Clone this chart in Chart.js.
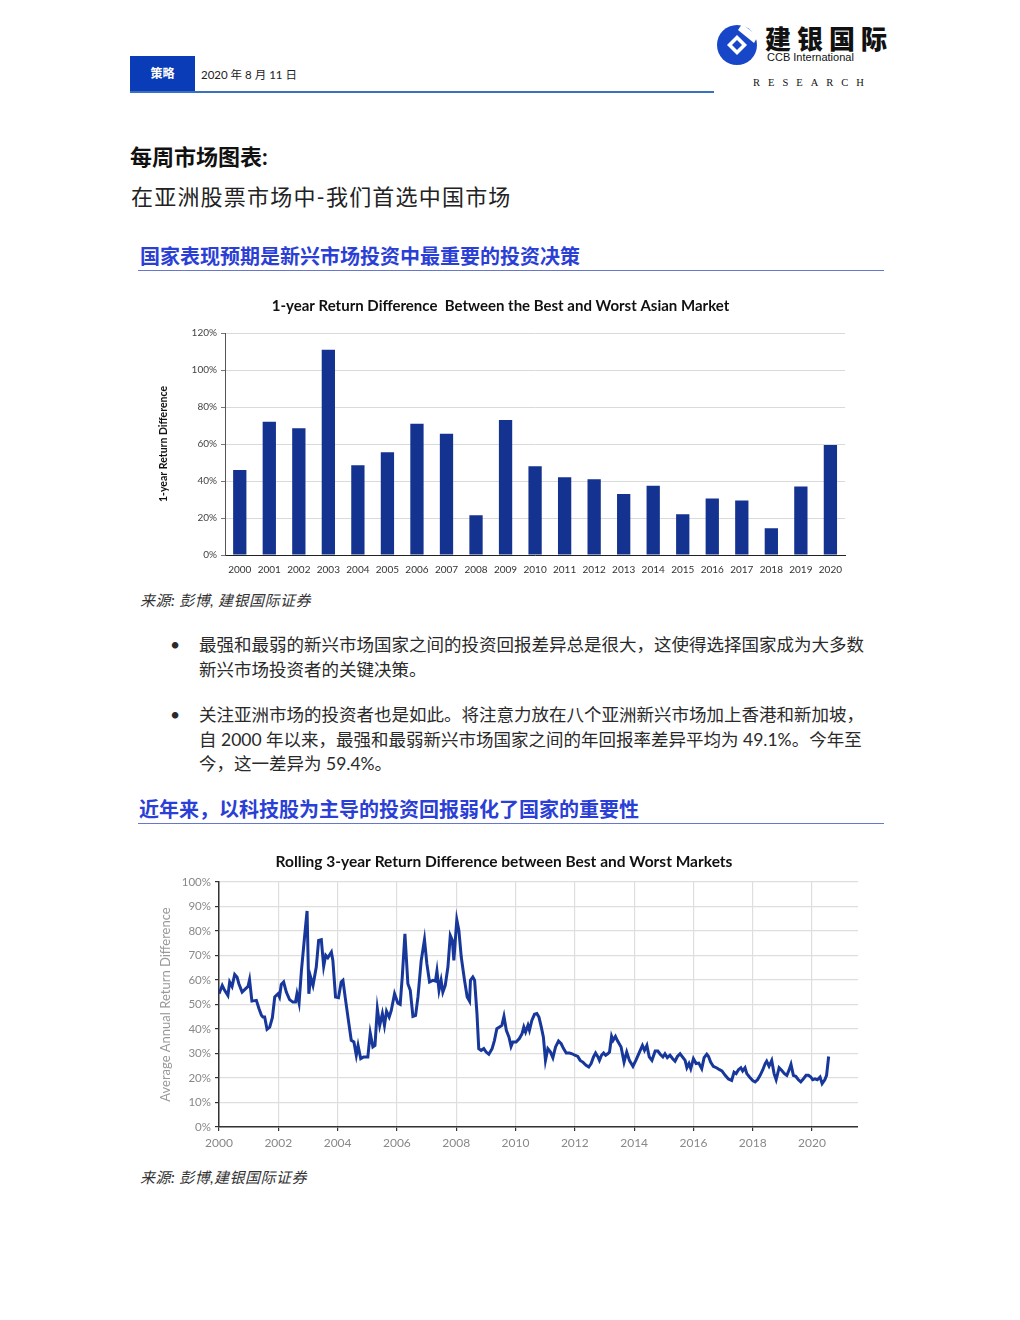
<!DOCTYPE html>
<html>
<head>
<meta charset="utf-8">
<script src="https://cdn.jsdelivr.net/npm/chart.js@4/dist/chart.umd.min.js"></script>
<style>
  html, body { margin:0; padding:0; background:#fff; }
  body { width:1020px; height:1320px; position:relative; overflow:hidden;
         font-family: "Lato", "Noto Sans CJK SC", sans-serif; color:#222; }
  .abs { position:absolute; white-space:nowrap; }
  .h2 { font-size:20px; font-weight:bold; color:#2b3fd6; line-height:24px; letter-spacing:0px; }
  .rule { position:absolute; height:1px; background:#6677cc; }
  .body { font-size:17.5px; line-height:24.5px; color:#2a2a2a; }
  .src { font-size:15px; font-style:italic; line-height:18px; color:#333; letter-spacing:0.5px; }
</style>
</head>
<body>
<!-- header -->
<div class="abs" style="left:130px;top:56px;width:65px;height:36px;background:#0b3cb8;"></div>
<div class="abs" style="left:130px;top:56px;width:65px;height:36px;line-height:36px;text-align:center;color:#fff;font-size:12px;font-weight:bold;">策略</div>
<div class="abs" style="left:201px;top:67px;font-size:11.5px;line-height:16px;color:#222;">2020 年 8 月 11 日</div>
<div class="abs" style="left:130px;top:91px;width:584px;height:2px;background:#3a70c0;"></div>

<svg class="abs" width="42" height="42" viewBox="0 0 42 42" style="left:716px;top:24px;">
  <circle cx="21" cy="21" r="20" fill="#1846c8"/>
  <path d="M26 0 L42 12 L38 19 L22 6 Z" fill="#fff"/>
  <polygon points="21,11 31,21 21,31 11,21" fill="#fff"/>
  <polygon points="21,16 26,21 21,26 16,21" fill="#1846c8"/>
</svg>
<div class="abs" style="left:765px;top:23px;font-size:26px;font-weight:900;letter-spacing:6px;line-height:32px;color:#111;">建银国际</div>
<div class="abs" style="left:767px;top:50px;font-family:'Liberation Sans',Arial,sans-serif;font-size:11px;line-height:14px;color:#111;">CCB International</div>
<div class="abs" style="left:753px;top:76px;font-family:'Liberation Serif',serif;font-size:10.5px;letter-spacing:8px;line-height:14px;color:#111;">RESEARCH</div>

<!-- titles -->
<div class="abs" style="left:130px;top:144px;font-size:22px;font-weight:bold;line-height:26px;color:#111;">每周市场图表:</div>
<div class="abs" style="left:131px;top:184px;font-size:22px;line-height:26px;letter-spacing:1.2px;color:#222;">在亚洲股票市场中-我们首选中国市场</div>

<div class="abs h2" style="left:140px;top:244px;">国家表现预期是新兴市场投资中最重要的投资决策</div>
<div class="rule" style="left:138px;top:270px;width:746px;"></div>

<!-- chart 1 -->
<canvas id="c1" class="abs" width="701" height="291" style="left:150px;top:294px;"></canvas>
<div class="abs src" style="left:140px;top:591px;">来源: 彭博, 建银国际证券</div>

<!-- bullets -->
<div class="abs body" style="left:170px;top:633px;">•</div>
<div class="abs body" style="left:199px;top:633px;">最强和最弱的新兴市场国家之间的投资回报差异总是很大，这使得选择国家成为大多数<br>新兴市场投资者的关键决策。</div>
<div class="abs body" style="left:170px;top:703px;">•</div>
<div class="abs body" style="left:199px;top:703px;">关注亚洲市场的投资者也是如此。将注意力放在八个亚洲新兴市场加上香港和新加坡，<br>自 2000 年以来，最强和最弱新兴市场国家之间的年回报率差异平均为 49.1%。今年至<br>今，这一差异为 59.4%。</div>

<div class="abs h2" style="left:139px;top:797px;">近年来，以科技股为主导的投资回报弱化了国家的重要性</div>
<div class="rule" style="left:138px;top:823px;width:746px;"></div>

<!-- chart 2 -->
<canvas id="c2" class="abs" width="708" height="305" style="left:150px;top:850px;"></canvas>
<div class="abs src" style="left:140px;top:1168px;">来源: 彭博,建银国际证券</div>

<script>
// ---------- data: chart 1 ----------
const barYears = ['2000','2001','2002','2003','2004','2005','2006','2007','2008','2009','2010',
                  '2011','2012','2013','2014','2015','2016','2017','2018','2019','2020'];
const barValues = [46, 72, 68.5, 111, 48.5, 55.5, 71, 65.5, 21.5, 73, 48,
                   42, 41, 33, 37.5, 22, 30.5, 29.5, 14.5, 37, 59.4];
const barTitle = '1-year Return Difference  Between the Best and Worst Asian Market';
const barAxisTitle = '1-year Return Difference';

// ---------- data: chart 2 ----------
const lineTitle = 'Rolling 3-year Return Difference between Best and Worst Markets';
const lineAxisTitle = 'Average Annual Return Difference';
const lineTickYears = [2000, 2002, 2004, 2006, 2008, 2010, 2012, 2014, 2016, 2018, 2020];
const lineX = [
 2000.00,2000.11,2000.19,2000.30,2000.36,2000.44,2000.53,2000.61,2000.67,2000.78,2000.90,2000.98,
 2001.03,2001.11,2001.26,2001.35,2001.43,2001.48,2001.54,2001.62,2001.71,2001.80,2001.88,2001.99,
 2002.04,2002.10,2002.18,2002.27,2002.38,2002.49,2002.58,2002.63,2002.70,2002.78,2002.89,2002.97,
 2003.03,2003.09,2003.17,2003.22,2003.28,2003.36,2003.45,2003.53,2003.60,2003.67,2003.79,2003.84,2003.93,
 2004.03,2004.12,2004.18,2004.27,2004.38,2004.46,2004.55,2004.63,2004.69,2004.78,2004.88,
 2005.02,2005.10,2005.19,2005.26,2005.34,2005.42,2005.51,2005.58,2005.65,2005.74,2005.81,2005.92,
 2006.03,2006.11,2006.18,2006.27,2006.37,2006.45,2006.54,2006.63,2006.71,2006.82,2006.93,
 2007.01,2007.10,2007.21,2007.30,2007.35,2007.42,2007.49,2007.55,2007.63,2007.72,2007.80,2007.87,2007.92,
 2008.02,2008.09,2008.17,2008.28,2008.37,2008.45,2008.48,2008.56,2008.62,2008.70,2008.76,2008.84,2008.93,
 2009.01,2009.10,2009.21,2009.29,2009.37,2009.46,2009.54,2009.61,2009.69,2009.78,2009.85,2009.91,
 2010.02,2010.13,2010.22,2010.28,2010.34,2010.42,2010.47,2010.55,2010.64,2010.72,2010.79,2010.87,2010.94,
 2011.01,2011.09,2011.18,2011.26,2011.35,2011.45,2011.54,2011.62,2011.71,2011.82,2011.91,
 2012.00,2012.10,2012.18,2012.27,2012.38,2012.47,2012.55,2012.63,2012.70,2012.78,2012.83,2012.90,2012.97,
 2013.04,2013.11,2013.17,2013.24,2013.29,2013.37,2013.43,2013.56,2013.66,2013.75,2013.84,2013.96,
 2014.07,2014.18,2014.28,2014.35,2014.43,2014.51,2014.60,2014.71,2014.80,2014.88,2014.97,
 2015.04,2015.12,2015.21,2015.30,2015.38,2015.46,2015.55,2015.63,2015.72,2015.78,2015.85,2015.91,
 2016.00,2016.09,2016.18,2016.28,2016.36,2016.45,2016.51,2016.58,2016.67,2016.79,2016.88,2016.96,
 2017.07,2017.18,2017.29,2017.37,2017.44,2017.52,2017.60,2017.66,2017.74,2017.80,2017.89,
 2018.00,2018.08,2018.16,2018.25,2018.34,2018.42,2018.47,2018.55,2018.64,2018.72,2018.79,2018.89,2018.98,
 2019.07,2019.15,2019.22,2019.29,2019.37,2019.45,2019.54,2019.62,2019.71,2019.80,2019.88,2019.96,
 2020.02,2020.10,2020.18,2020.27,2020.34,2020.43,2020.49,2020.56
];
const lineY = [
 54.4,57.8,55.8,53.7,59.2,57.4,62.3,61.2,58.5,55.1,56.5,57.4,
 60.1,51.4,51.7,48.3,45.6,44.9,44.9,39.9,40.8,44.6,53.1,54.4,
 53.1,58.2,59.2,55.1,52.0,51.0,51.0,54.4,50.6,63.9,78.2,88.2,
 54.4,61.2,57.8,61.2,65.3,76.2,76.5,65.6,70.1,69.1,71.4,68.0,53.1,
 52.8,59.2,59.9,51.7,42.2,35.4,34.7,29.3,33.3,27.9,28.6,
 28.6,38.4,32.7,33.3,48.3,41.5,46.3,41.5,47.3,44.9,47.6,54.4,
 50.6,50.1,61.2,78.9,58.5,55.8,45.2,45.6,53.1,68.0,76.5,
 66.7,59.2,59.9,59.6,63.7,55.8,59.9,55.1,57.8,65.3,78.2,76.2,68.0,
 84.6,80.3,69.4,59.9,53.1,51.4,59.9,61.2,59.9,46.3,32.0,31.3,32.0,
 30.6,29.7,32.0,35.4,40.1,40.8,41.5,45.2,39.5,36.7,32.9,34.7,
 34.7,36.1,38.1,40.8,38.8,41.5,39.5,43.5,46.0,46.3,44.9,40.8,36.7,
 27.2,32.0,30.6,28.3,32.7,35.1,34.0,32.0,30.2,30.2,29.9,
 29.3,28.8,27.2,26.5,25.2,24.5,25.9,28.6,30.2,28.6,27.2,29.3,30.2,
 29.3,29.9,30.6,37.0,35.4,37.0,35.4,32.7,26.5,30.6,27.2,24.8,
 27.5,30.6,33.3,31.3,33.3,28.6,27.2,31.0,31.0,29.7,28.6,
 29.9,28.3,29.3,27.9,26.9,28.8,29.9,28.6,27.2,24.2,25.9,23.8,
 27.9,25.9,26.1,23.8,28.3,29.7,28.8,26.5,24.8,24.1,23.4,22.9,
 21.1,19.6,19.0,22.4,21.8,23.4,24.2,22.9,24.2,21.8,20.4,
 19.0,18.4,19.3,21.1,23.4,25.9,26.9,24.8,27.2,21.8,19.3,24.2,23.1,
 21.8,21.1,23.1,25.6,21.1,20.7,19.3,18.4,19.7,21.1,21.1,20.4,
 19.3,19.7,19.3,20.4,17.7,19.3,21.1,28.8
];

const chartFont = "'Lato', 'DejaVu Sans', sans-serif";

// ---------- chart 1 ----------
new Chart(document.getElementById('c1'), {
  type: 'bar',
  data: {
    labels: barYears,
    datasets: [{ data: barValues, backgroundColor: '#14328f', borderWidth: 0,
                 categoryPercentage: 1, barPercentage: 0.45 }]
  },
  options: {
    responsive: false, animation: false,
    layout: { padding: 0 },
    plugins: {
      legend: { display: false }, tooltip: { enabled: false },
      title: { display: true, text: barTitle, color: '#111',
               font: { family: chartFont, size: 15, weight: 'bold' },
               padding: { top: 3.5, bottom: 17.5 } }
    },
    scales: {
      x: {
        grid: { display: false, drawTicks: false },
        border: { color: '#222', width: 1 },
        ticks: { color: '#333', font: { family: chartFont, size: 10 }, padding: 9, maxRotation: 0, autoSkip: false },
        afterFit: (s) => { s.height = 30; }
      },
      y: {
        min: 0, max: 120,
        grid: { color: '#dadada', lineWidth: 1, tickLength: 4, tickColor: '#777' },
        border: { color: '#555', width: 1 },
        ticks: { stepSize: 20, color: '#444', padding: 4, font: { family: chartFont, size: 10 },
                 callback: (v) => v + '%' },
        title: { display: true, text: barAxisTitle, color: '#111',
                 font: { family: chartFont, size: 10.5, weight: 'bold' }, padding: { top: 7, bottom: 0 } },
        afterFit: (s) => { s.width = 75; }
      }
    }
  }
});

// ---------- chart 2 ----------
new Chart(document.getElementById('c2'), {
  type: 'line',
  data: {
    datasets: [{ data: lineX.map((x, i) => ({ x: x, y: lineY[i] })),
                 borderColor: '#17379a', borderWidth: 3, pointRadius: 0, tension: 0, fill: false }]
  },
  options: {
    responsive: false, animation: false,
    layout: { padding: 0 },
    plugins: {
      legend: { display: false }, tooltip: { enabled: false },
      title: { display: true, text: lineTitle, color: '#111',
               font: { family: chartFont, size: 15.5, weight: 'bold' },
               padding: { top: 3, bottom: 10.5 } }
    },
    scales: {
      x: {
        type: 'linear', min: 2000, max: 2021.55,
        afterBuildTicks: (s) => { s.ticks = lineTickYears.map(v => ({ value: v })); },
        grid: { color: '#dedede', lineWidth: 1.2, tickLength: 4, tickColor: '#333' },
        border: { color: '#333', width: 1.5 },
        ticks: { color: '#888', font: { family: chartFont, size: 12 }, padding: 5, maxRotation: 0,
                 callback: (v) => String(v) },
        afterFit: (s) => { s.height = 28; }
      },
      y: {
        min: 0, max: 100,
        grid: { color: '#dedede', lineWidth: 1.2, tickLength: 4, tickColor: '#333' },
        border: { color: '#333', width: 1.5 },
        ticks: { stepSize: 10, color: '#888', padding: 4, font: { family: chartFont, size: 11.5 },
                 callback: (v) => v + '%' },
        title: { display: true, text: lineAxisTitle, color: '#999',
                 font: { family: chartFont, size: 13 }, padding: { top: 8, bottom: 0 } },
        afterFit: (s) => { s.width = 69; }
      }
    }
  }
});
</script>
</body>
</html>
